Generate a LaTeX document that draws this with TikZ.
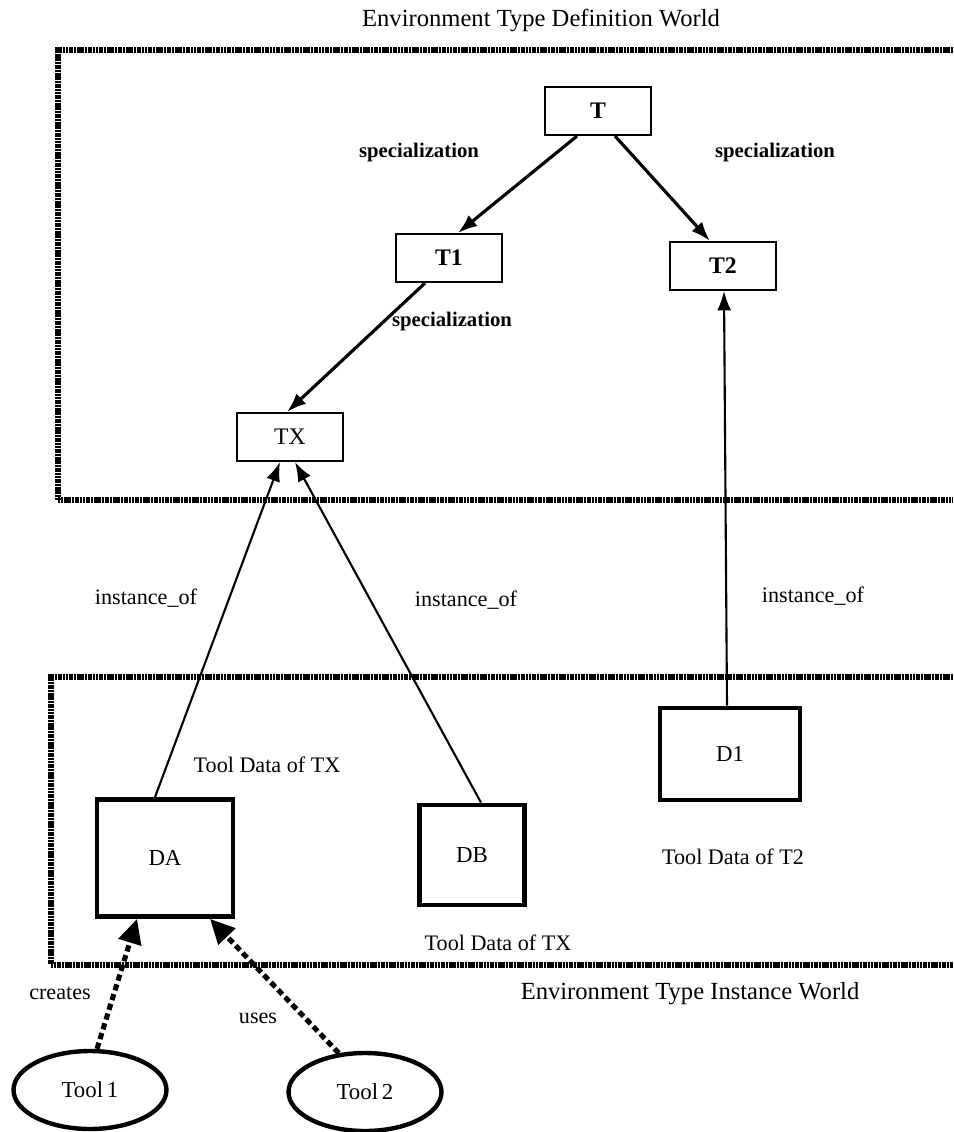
\documentclass[tikz,border=0pt]{standalone}
\usepackage{fontspec}
\setmainfont{Liberation Serif}
\usetikzlibrary{arrows.meta,shapes.geometric}

\tikzset{
  frameline/.style={line width=2.9pt, dash pattern=on 1.2pt off 0.35pt},
  typebox/.style={draw, line width=1.2pt, minimum width=2.12cm, minimum height=0.96cm, font=\fontsize{13.5}{15}\selectfont\bfseries},
  databox/.style={draw, line width=2.7pt, font=\fontsize{13}{15}\selectfont},
  toolnode/.style={draw, ellipse, line width=2.5pt, minimum width=3.06cm, minimum height=1.56cm, inner sep=0pt, font=\fontsize{13}{15}\selectfont},
  spec/.style={line width=1.8pt, -{Latex[length=11pt,width=8pt]}},
  inst/.style={line width=1.2pt, -{Latex[length=11pt,width=8pt]}},
  toolarrow/.style={line width=2.9pt, dash pattern=on 3.6pt off 2.2pt, -{Triangle[length=14pt,width=13pt]}},
  lbl/.style={font=\fontsize{12.6}{14}\selectfont},
  speclbl/.style={font=\fontsize{11.8}{14}\selectfont\bfseries},
  worldlbl/.style={font=\fontsize{14}{16}\selectfont}
}

\begin{document}
\begin{tikzpicture}[x=0.02cm, y=-0.02cm]
\useasboundingbox (0,0) rectangle (953,1132);

% the two worlds, open towards the right
\draw[frameline] (953,50) -- (58,50) -- (58,500) -- (953,500);
\draw[frameline] (953,677) -- (51,677) -- (51,965) -- (953,965);

\node[worldlbl] (deftitle) at (541,20) {Environment Type Definition World};
\node[worldlbl] (insttitle) at (690,994) {Environment Type Instance World};

% type definitions
\node[typebox] (t)  at (598,111) {T};
\node[typebox] (t1) at (449,258) {T1};
\node[typebox] (t2) at (723,266) {T2};
\node[typebox, font=\fontsize{13.5}{15}\selectfont] (tx) at (290,437) {TX};

% tool data
\node[databox, minimum width=2.72cm, minimum height=2.34cm] (da) at (165,858) {DA};
\node[databox, minimum width=2.1cm, minimum height=2.0cm] (db) at (472,855) {DB};
\node[databox, minimum width=2.8cm, minimum height=1.84cm] (d1) at (730,754) {D1};

% tools
\node[toolnode] (tool1) at (90,1090) {Tool\,1};
\node[toolnode] (tool2) at (365,1092) {Tool\,2};

% specialization hierarchy
\draw[spec] ([xshift=-0.42cm]t.south) -- ([xshift=0.18cm]t1.north);
\draw[spec] ([xshift=0.34cm]t.south) -- ([xshift=-0.26cm]t2.north);
\draw[spec] ([xshift=-0.48cm]t1.south) -- ([xshift=-0.06cm]tx.north);

\node[speclbl] (sp1) at (419,153) {specialization};
\node[speclbl] (sp2) at (775,153) {specialization};
\node[speclbl] (sp3) at (452,322) {specialization};

% instance relations
\draw[inst] ([xshift=-0.2cm]da.north) -- ([xshift=-0.2cm]tx.south);
\draw[inst] ([xshift=0.18cm]db.north) -- ([xshift=0.1cm]tx.south);
\draw[inst] ([xshift=-0.06cm]d1.north) -- ([xshift=0.02cm]t2.south);

\node[lbl] (io1) at (146,598) {instance\_of};
\node[lbl] (io2) at (466,600) {instance\_of};
\node[lbl] (io3) at (813,596) {instance\_of};

\node[lbl] (tdx1) at (267,765) {Tool Data of TX};
\node[lbl] (tdx2) at (498,943) {Tool Data of TX};
\node[lbl] (td2)  at (733,857) {Tool Data of T2};

% tools acting on the data
\draw[toolarrow] ([xshift=0.14cm]tool1.north) -- ([xshift=-0.56cm]da.south);
\draw[toolarrow] (tool2.124) -- ([xshift=0.9cm]da.south);

\node[lbl] (cr) at (60,993) {creates};
\node[lbl] (us) at (258,1018) {uses};
\end{tikzpicture}
\end{document}
